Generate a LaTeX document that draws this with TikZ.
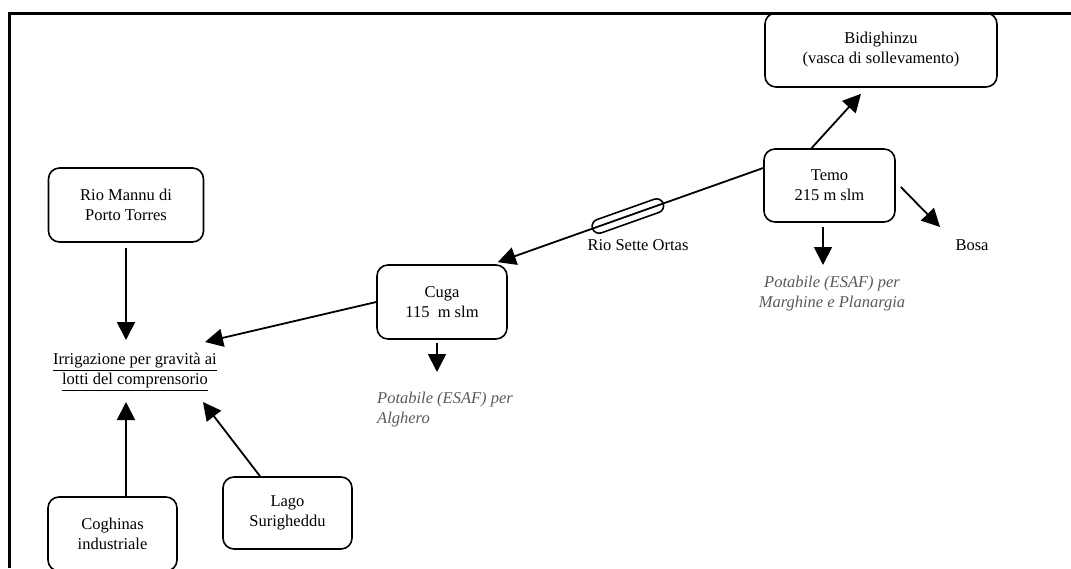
\documentclass[tikz,border=0pt]{standalone}
\usepackage{fontspec}
\setmainfont{Liberation Serif}
\usetikzlibrary{arrows.meta,calc}
\begin{document}
\begin{tikzpicture}[x=1pt,y=-1pt,
  font=\fontsize{16.5}{20}\selectfont,
  box/.style={draw,line width=1.6pt,rounded corners=11pt,align=center,inner sep=0pt},
  lbl/.style={align=center,inner sep=0pt},
  ital/.style={inner sep=0pt,font=\fontsize{16.5}{20}\selectfont\itshape,text=black!65},
  capsule/.style={draw,line width=1.6pt,rounded corners=7pt,minimum width=75pt,minimum height=14pt,inner sep=0pt},
  arr/.style={line width=1.8pt,-{Triangle[length=18pt,width=18pt]}}]
\useasboundingbox (0,0) rectangle (1071,568);
\clip (0,0) rectangle (1071,568);
\draw[line width=3pt] (9,568) -- (9,13) -- (1071,13);

\node[box,minimum width=232pt,minimum height=74pt] (bid) at (881,50) {Bidighinzu\\(vasca di sollevamento)};
\node[box,minimum width=131pt,minimum height=73pt] (temo) at (829.5,185.5) {Temo\\215 m slm};
\node[box,minimum width=130pt,minimum height=74pt] (cuga) at (442,302) {Cuga\\115~~m slm};
\node[box,minimum width=155pt,minimum height=74pt] (rio) at (126,205) {Rio Mannu di\\Porto Torres};
\node[box,minimum width=129pt,minimum height=74pt] (cogh) at (112.5,534) {Coghinas\\industriale};
\node[box,minimum width=129pt,minimum height=72pt] (lago) at (287.5,513) {Lago\\Surigheddu};

\node[lbl] (bosa) at (972,245) {Bosa};
\node[ital,align=center] (potT) at (832,294) {Potabile (ESAF) per\\Marghine e Planargia};
\node[ital,align=left,anchor=west] (potC) at (377,409.5) {Potabile (ESAF) per\\Alghero};
\node[lbl] (irr) at (135,372) {\underline{Irrigazione per gravità ai}\\\underline{lotti del comprensorio}};
\node[lbl] (rsot) at (638,245) {Rio Sette Ortas};

\draw[arr] ($(temo.north)+(-18,0)$) -- ($(bid.south)+(-20,6)$);
\draw[arr] ($(temo.east)+(5,1.5)$) -- ($(bosa.center)+(-32,-18)$);
\draw[arr] ($(temo.south)+(-6.5,4)$) -- ($(potT.center)+(-9,-29)$);
\draw[arr] ($(temo.west)+(0,-17.5)$) -- node[pos=0.51,sloped,capsule] (rso) {} ($(cuga.north east)+(-10,-2)$);
\draw[arr] ($(cuga.south)+(-5,3)$) -- ($(potC.west)+(60,-37.5)$);
\draw[arr] (cuga.west) -- ($(irr.center)+(70,-30)$);
\draw[arr] ($(rio.south)+(0,5)$) -- ($(irr.center)+(-9,-32)$);
\draw[arr] ($(cogh.north)+(13.5,0)$) -- ($(irr.center)+(-9,30)$);
\draw[arr] ($(lago.north)+(-27.5,0)$) -- ($(irr.center)+(68,30)$);
\end{tikzpicture}
\end{document}
